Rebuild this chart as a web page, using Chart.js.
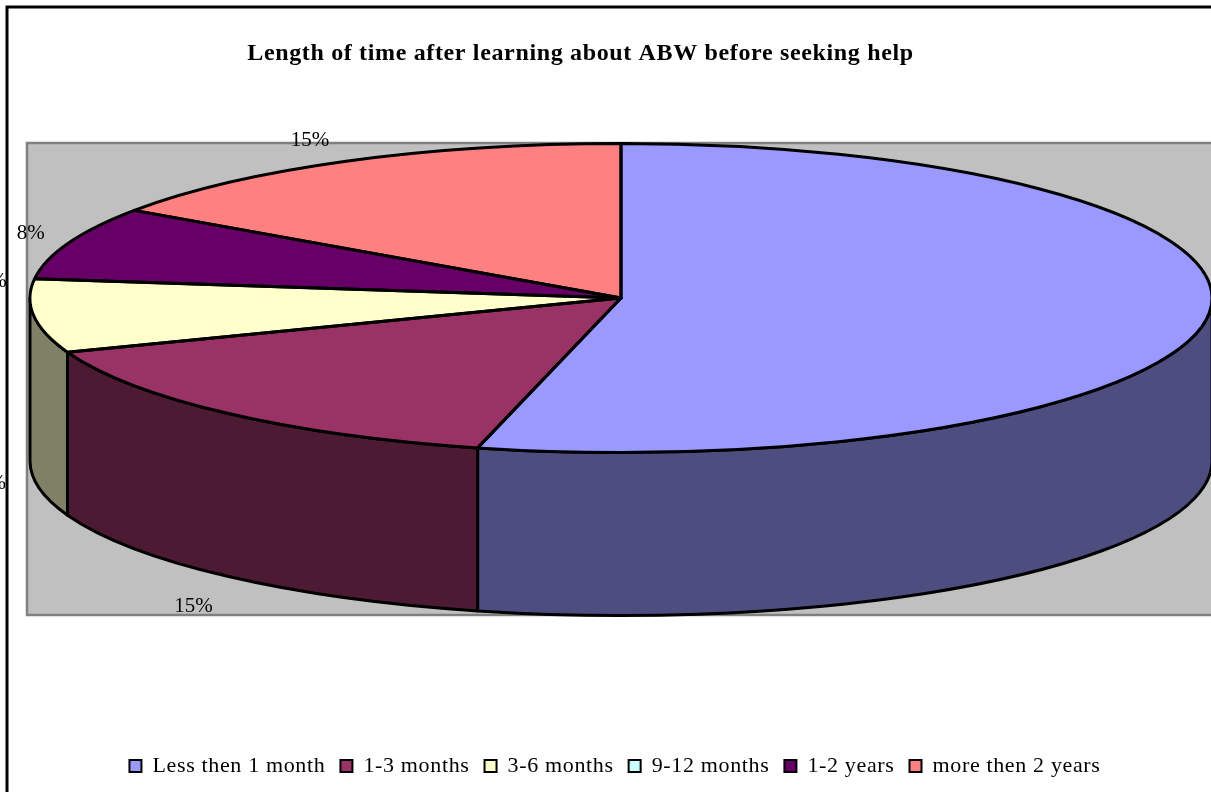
<!DOCTYPE html>
<html>
<head>
<meta charset="utf-8">
<style>html,body{margin:0;padding:0;background:#fff;overflow:hidden}canvas{display:block}</style>
<script src="https://cdn.jsdelivr.net/npm/chart.js@4"></script>
</head>
<body>
<canvas id="c" width="1211" height="792"></canvas>
<script>
const titleText = 'Length of time after learning about ABW before seeking help';
const categories = ['Less then 1 month','1-3 months','3-6 months','9-12 months','1-2 years','more then 2 years'];
const shares = [53.9,15.4,7.7,0,7.6,15.4];
const topColors = ['#9999FF','#993366','#FFFFCC','#CCFFFF','#660066','#FF8080'];
const sideColors = ['#4D4D80','#4D1A33','#808066','#668080','#330033','#804040'];

const SERIF = '"Liberation Serif","Times New Roman",serif';
const CX = 621, CY = 298, RX = 591, RY = 154.5, DEPTH = 163;
const labelDX = [37,-34,-42,-42,-38,-36];
const labelDY = [3,30,5,3,-9,-21];
const TEXT_SPACING = '0.65px';

const pie3d = {
  id: 'pie3d',
  beforeLayout(chart){ chart.ctx.letterSpacing = TEXT_SPACING; },
  afterLayout(chart){
    chart.chartArea = {left:CX-RY, right:CX+RY, top:CY-RY, bottom:CY+RY, width:2*RY, height:2*RY};
    const t = chart.titleBlock; t.left = -50; t.right = 1211;
    const l = chart.legend; l.left = 19; l.right = 1211; l.top = 740; l.bottom = 792;
  },
  beforeDraw(chart){
    const ctx = chart.ctx;
    ctx.letterSpacing = TEXT_SPACING;
    ctx.save();
    ctx.strokeStyle = '#000'; ctx.lineWidth = 3;
    ctx.strokeRect(7,7,1300,1300);
    ctx.fillStyle = '#C0C0C0'; ctx.strokeStyle = '#808080'; ctx.lineWidth = 2.5;
    ctx.fillRect(27,143,1300,472); ctx.strokeRect(27,143,1300,472);
    ctx.restore();
  },
  beforeDatasetsDraw(chart){
    const ctx = chart.ctx, arcs = chart.getDatasetMeta(0).data;
    ctx.save();
    ctx.lineWidth = 3; ctx.strokeStyle = '#000'; ctx.lineJoin = 'round';
    arcs.forEach((arc,i)=>{
      const p = arc.getProps(['x','y','startAngle','endAngle','outerRadius']);
      let a = Math.max(p.startAngle,0), b = Math.min(p.endAngle,Math.PI);
      if (b <= a) return;
      const k = RX/p.outerRadius, rx = p.outerRadius*k, ry = p.outerRadius;
      ctx.beginPath();
      ctx.ellipse(p.x,p.y,rx,ry,0,a,b,false);
      ctx.ellipse(p.x,p.y+DEPTH,rx,ry,0,b,a,true);
      ctx.closePath();
      ctx.fillStyle = sideColors[i];
      ctx.fill(); ctx.stroke();
    });
    ctx.restore();
    ctx.save();
    ctx.translate(CX,CY); ctx.scale(RX/RY,1); ctx.translate(-CX,-CY);
  },
  afterDatasetsDraw(chart){
    const ctx = chart.ctx, arcs = chart.getDatasetMeta(0).data;
    ctx.restore();
    ctx.save();
    ctx.lineWidth = 3; ctx.strokeStyle = '#000'; ctx.lineJoin = 'round';
    arcs.forEach(arc=>{
      const p = arc.getProps(['x','y','startAngle','endAngle','outerRadius']);
      if (p.endAngle <= p.startAngle) return;
      ctx.beginPath();
      ctx.moveTo(p.x,p.y);
      ctx.ellipse(p.x,p.y,RX,p.outerRadius,0,p.startAngle,p.endAngle,false);
      ctx.closePath();
      ctx.stroke();
    });
    ctx.restore();
  },
  afterDraw(chart){
    const ctx = chart.ctx, arcs = chart.getDatasetMeta(0).data;
    ctx.save();
    ctx.letterSpacing = '0px';
    ctx.font = '21px '+SERIF; ctx.fillStyle = '#000';
    ctx.textAlign = 'center'; ctx.textBaseline = 'middle';
    arcs.forEach((arc,i)=>{
      const p = arc.getProps(['x','y','startAngle','endAngle','outerRadius']);
      const m = (p.startAngle+p.endAngle)/2;
      const px = p.x+RX*Math.cos(m);
      let py = p.y+p.outerRadius*Math.sin(m);
      if (Math.sin(m)>0) py += DEPTH;
      ctx.fillText(Math.round(shares[i])+'%',px+labelDX[i],py+labelDY[i]);
    });
    ctx.restore();
  }
};

new Chart(document.getElementById('c'),{
  type:'pie',
  data:{labels:categories,datasets:[{data:shares,backgroundColor:topColors,borderWidth:0}]},
  options:{
    responsive:false,animation:false,
    plugins:{
      tooltip:{enabled:false},
      title:{display:true,text:titleText,color:'#000',padding:{top:39,bottom:10},
        font:{family:SERIF,size:24,weight:'bold'}},
      legend:{position:'bottom',labels:{color:'#000',boxWidth:12,boxHeight:12,padding:15,
        font:{family:SERIF,size:22},
        generateLabels(chart){
          return Chart.overrides.pie.plugins.legend.labels.generateLabels(chart)
            .map(it=>Object.assign(it,{strokeStyle:'#000',lineWidth:2,hidden:false}));
        }}}
    }
  },
  plugins:[pie3d]
});
</script>
</body>
</html>
